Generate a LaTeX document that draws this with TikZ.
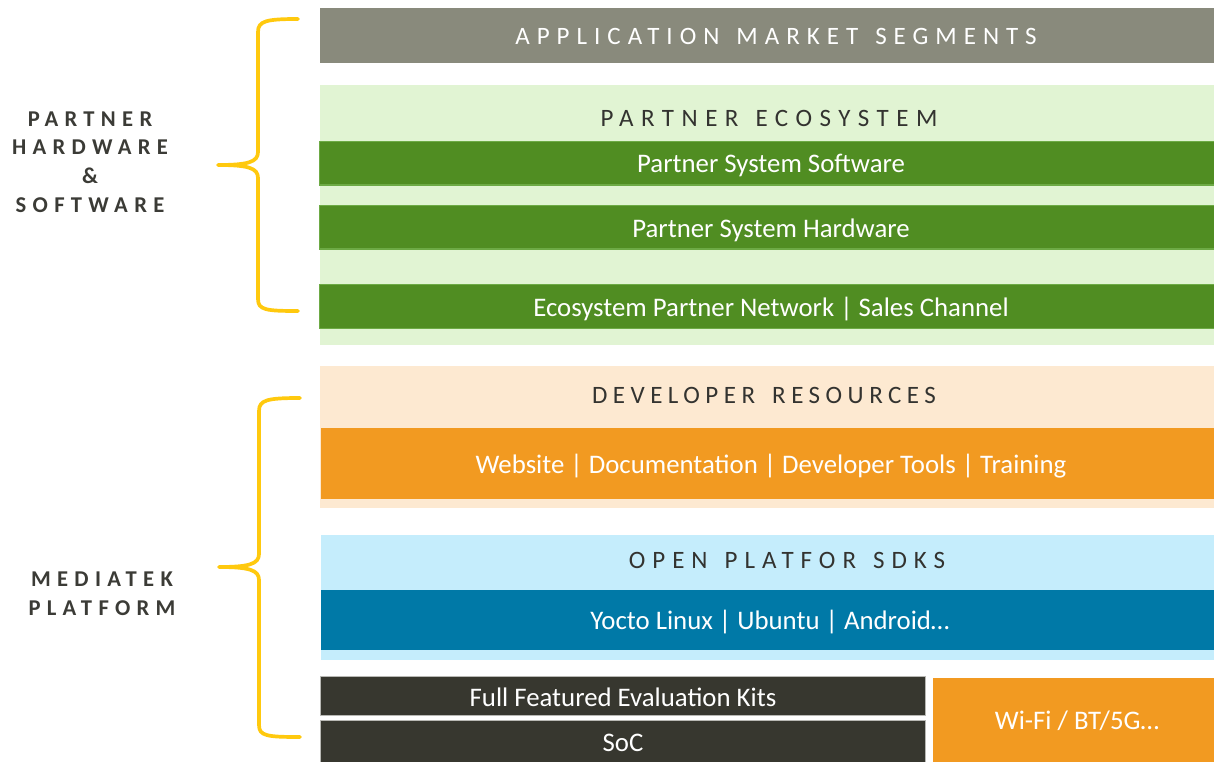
\documentclass[tikz,border=0pt]{standalone}
\usepackage{fontspec}
\setmainfont{Carlito}
\newfontfamily\spacedfont[LetterSpace=28]{Carlito}
\newcommand{\wsp}{\hspace{17pt}}
\definecolor{graybar}{HTML}{898A7C}
\definecolor{lgreen}{HTML}{E1F4D3}
\definecolor{dgreen}{HTML}{508D22}
\definecolor{dgreenb}{HTML}{6DAA45}
\definecolor{lorange}{HTML}{FDE9D1}
\definecolor{orange}{HTML}{F29A21}
\definecolor{lblue}{HTML}{C5EDFC}
\definecolor{dblue}{HTML}{0079A7}
\definecolor{dark}{HTML}{37372F}
\definecolor{darkb}{HTML}{B8B8B4}
\definecolor{brace}{HTML}{FFC90E}
\definecolor{labelc}{HTML}{3B3B36}
\definecolor{headc}{HTML}{333330}
\tikzset{
  head/.style={inner sep=0pt, anchor=base, font=\spacedfont\fontsize{25}{30}\selectfont, text=headc},
  body/.style={inner sep=0pt, anchor=base, font=\fontsize{26.8}{32}\selectfont, text=white},
  sidelabel/.style={inner sep=0pt, anchor=center, align=center, text=labelc,
     font=\spacedfont\bfseries\fontsize{22.6}{28.6}\selectfont},
  bracestyle/.style={draw=brace, line width=3.7pt, line cap=round, line join=round},
  greenbar/.style={fill=dgreen, draw=dgreenb, line width=1.2pt}
}
\begin{document}
\begin{tikzpicture}[x=1pt,y=-1pt]
\useasboundingbox (0,0) rectangle (1214,762);
% top gray bar
\fill[graybar] (320,8) rectangle (1214,63);
\node[head, text=white] (app) at (776,45) {APPLICATION\wsp MARKET\wsp SEGMENTS};
% partner ecosystem
\fill[lgreen] (320,85) rectangle (1214,345);
\node[head, font=\spacedfont\addfontfeature{LetterSpace=30}\fontsize{25}{30}\selectfont] (peco) at (769,126.5) {PARTNER\wsp ECOSYSTEM};
\filldraw[greenbar] (319.6,141.6) rectangle (1214.5,185);
\node[body] (pss) at (771,173) {Partner System Software};
\filldraw[greenbar] (319.6,205.6) rectangle (1214.5,249);
\node[body] (psh) at (771,237) {Partner System Hardware};
\filldraw[greenbar] (319.6,284.6) rectangle (1214.5,328.6);
\node[body] (epn) at (771,316) {Ecosystem Partner Network | Sales Channel};
% developer resources
\fill[lorange] (320,366) rectangle (1214,508);
\node[head, font=\spacedfont\addfontfeature{LetterSpace=22}\fontsize{25}{30}\selectfont] (devres) at (764,403.3) {DEVELOPER\wsp RESOURCES};
\fill[orange] (321,428) rectangle (1214,499);
\node[body] (web) at (771,473.3) {Website | Documentation | Developer Tools | Training};
% open platform SDKs
\fill[lblue] (321,535) rectangle (1214,660);
\node[head] (sdk) at (787,568.3) {OPEN\wsp PLATFOR\wsp SDKS};
\fill[dblue] (321,590) rectangle (1214,650);
\node[body] (yocto) at (770,629.3) {Yocto Linux | Ubuntu | Android\ldots};
% bottom boxes
\filldraw[fill=dark, draw=darkb, line width=0.8pt] (320.4,676.4) rectangle (925.6,715.6);
\node[body] (evk) at (623,706) {Full Featured Evaluation Kits};
\filldraw[fill=dark, draw=darkb, line width=0.8pt] (320.4,720.4) rectangle (925.6,763);
\node[body] (soc) at (623,751.5) {SoC};
\fill[orange] (933,678) rectangle (1214,762);
\node[body] (wifi) at (1077,729.3) {Wi-Fi / BT/5G\ldots};
% braces
\draw[bracestyle] (298,19) .. controls (266,19) and (258,21) .. (258,32)
  -- (258,152) .. controls (258,162) and (248,165) .. (218,165)
  .. controls (248,165) and (258,168) .. (258,178)
  -- (258,299) .. controls (258,310) and (266,311) .. (298,311);
\draw[bracestyle] (300,398) .. controls (267,398) and (259,400) .. (259,411)
  -- (259,554) .. controls (259,564) and (249,567) .. (219,567)
  .. controls (249,567) and (259,570) .. (259,580)
  -- (259,725) .. controls (259,736) and (267,737) .. (300,737);
% side labels
\node[sidelabel] (phs) at (90,162) {PARTNER\\HARDWARE\\\&\\SOFTWARE};
\node[sidelabel] (mtk) at (102,594) {MEDIATEK\\PLATFORM};
\end{tikzpicture}
\end{document}
